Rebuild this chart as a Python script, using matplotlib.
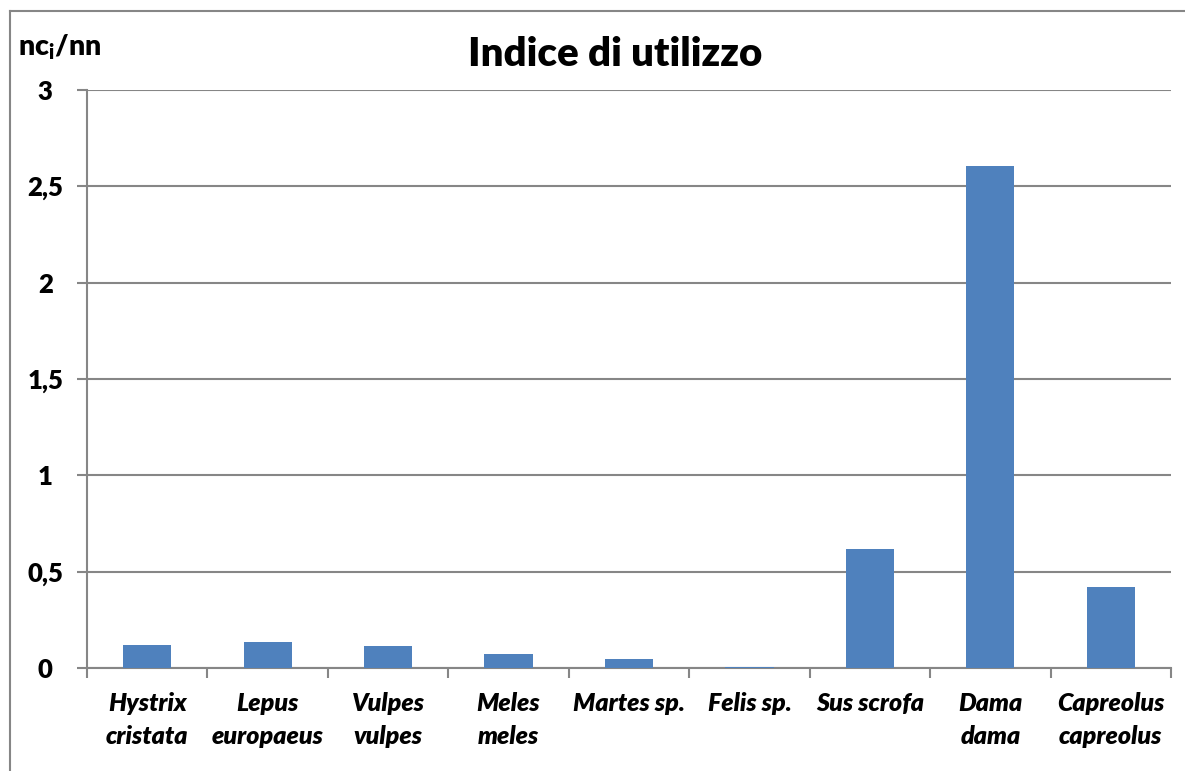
import matplotlib
matplotlib.use('Agg')
import matplotlib.pyplot as plt
import numpy as np

# -- data ---------------------------------------------------------------------
species = ['Hystrix\ncristata', 'Lepus\neuropaeus', 'Vulpes\nvulpes',
           'Meles\nmeles', 'Martes sp.', 'Felis sp.', 'Sus scrofa',
           'Dama\ndama', 'Capreolus\ncapreolus']
indice = [0.12, 0.137, 0.114, 0.071, 0.047, 0.007, 0.616, 2.607, 0.42]
y_ticks = [0, 0.5, 1, 1.5, 2, 2.5, 3]
y_labels = ['0', '0,5', '1', '1,5', '2', '2,5', '3']

# -- style --------------------------------------------------------------------
BAR = '#4F81BD'
GRID = '#868686'
FONT = 'Lato'
WEIGHT = 'heavy'
plt.rcParams['font.family'] = [FONT, 'DejaVu Sans']
plt.rcParams['mathtext.fontset'] = 'custom'
plt.rcParams['mathtext.bf'] = 'Lato:heavy'
plt.rcParams['mathtext.rm'] = 'Lato:heavy'

fig = plt.figure(figsize=(11.85, 7.71), dpi=100)
ax = fig.add_axes([87 / 1185, 1 - 668 / 771, (1171 - 87) / 1185, (668 - 90) / 771])

x = np.arange(len(species))
ax.bar(x, indice, width=0.4, color=BAR, zorder=3)

ax.set_xlim(-0.5, len(species) - 0.5)
ax.set_ylim(0, 3)
ax.set_yticks(y_ticks)
ax.set_yticklabels(y_labels, fontsize=18.5, fontweight=WEIGHT, ha='center')
ax.yaxis.grid(True, color=GRID, linewidth=1.5, zorder=0)

# category labels between boundary ticks
ax.set_xticks(x)
ax.set_xticklabels(species, fontsize=18, fontweight=WEIGHT, style='italic',
                   linespacing=1.55)
ax.tick_params(axis='x', length=0, pad=17)
ax.set_xticks(np.arange(-0.5, len(species)), minor=True)
ax.tick_params(axis='x', which='minor', length=7, width=1.5, color=GRID,
               direction='out')
ax.tick_params(axis='y', length=7, width=1.5, color=GRID, direction='out',
               pad=23)

for s in ['top', 'right']:
    ax.spines[s].set_visible(False)
for s in ['left', 'bottom']:
    ax.spines[s].set_color(GRID)
    ax.spines[s].set_linewidth(1.5)

fig.text(615 / 1185, 1 - 55 / 771, 'Indice di utilizzo', ha='center',
         va='center', fontsize=29, fontweight=WEIGHT)
fig.text(18 / 1185, 1 - 47 / 771, r'$\mathbf{nc_i/nn}$', ha='left',
         va='center', fontsize=20.5)

# chart area frame (top and left edges visible)
fig.add_artist(plt.Line2D([10 / 1185, 10 / 1185], [0, 1 - 11 / 771],
                          color=GRID, linewidth=1.5, transform=fig.transFigure))
fig.add_artist(plt.Line2D([10 / 1185, 1], [1 - 11 / 771, 1 - 11 / 771],
                          color=GRID, linewidth=1.5, transform=fig.transFigure))

fig.savefig('out.png', dpi=100, facecolor='white')
